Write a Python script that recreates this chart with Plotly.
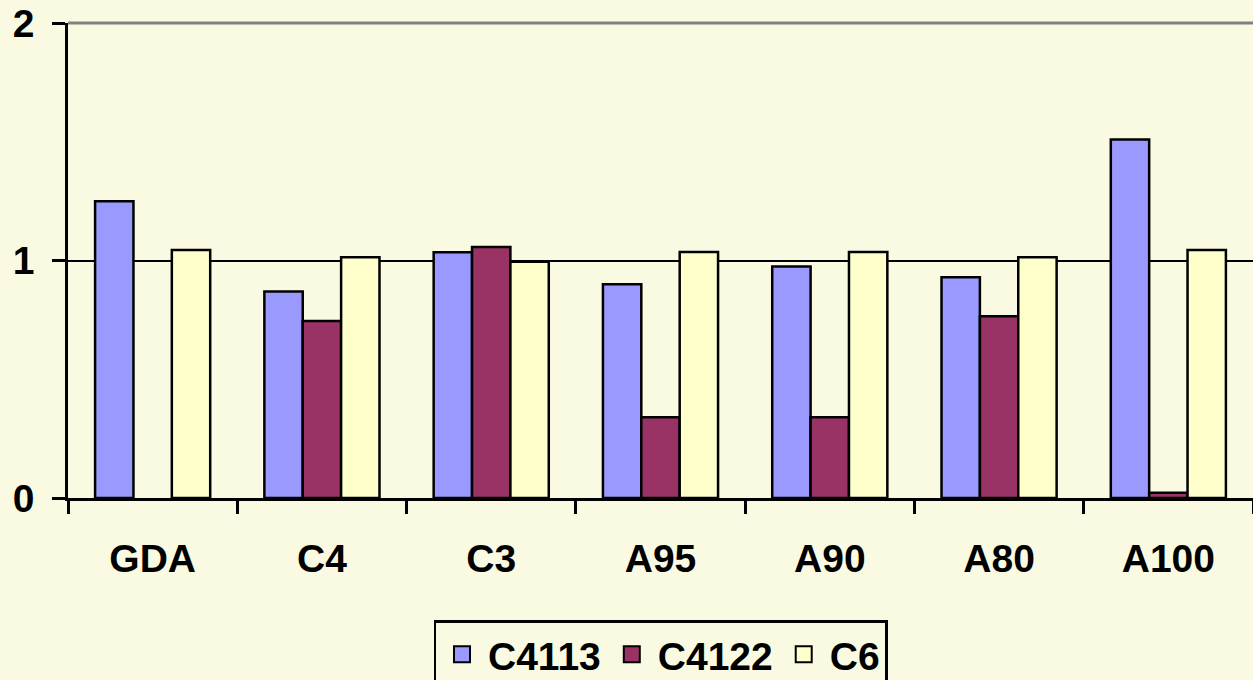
import plotly.graph_objects as go

categories = ["GDA", "C4", "C3", "A95", "A90", "A80", "A100"]
c4113 = [1.25, 0.87, 1.035, 0.90, 0.975, 0.93, 1.51]
c4122 = [None, 0.745, 1.057, 0.34, 0.34, 0.765, 0.022]
c6 = [1.044, 1.014, 0.995, 1.036, 1.036, 1.014, 1.044]
series_names = ["C4113", "C4122", "C6"]
y_ticks = [0, 1, 2]

bg = "#FAFAE2"
colors = ["#9999FF", "#993366", "#FFFFCC"]

fig = go.Figure()
for name, vals, col in zip(series_names, [c4113, c4122, c6], colors):
    fig.add_trace(go.Bar(
        x=categories, y=vals, name=name, showlegend=False,
        marker=dict(color=col, line=dict(color="black", width=2.5)),
    ))
# legend entries with larger square swatches
for name, col in zip(series_names, colors):
    fig.add_trace(go.Scatter(
        x=[None], y=[None], mode="markers", name=name,
        marker=dict(symbol="square", size=16, color=col, line=dict(color="black", width=2)),
    ))

fig.update_layout(
    width=1253, height=680,
    margin=dict(l=68, r=0, t=23, b=182),
    paper_bgcolor=bg, plot_bgcolor=bg,
    barmode="group", bargap=0.32, bargroupgap=0,
    font=dict(family="Liberation Sans, Arial, sans-serif", size=39, color="black", weight="bold"),
    showlegend=True,
    legend=dict(
        orientation="h", x=0.5, xanchor="center",
        yref="container", y=1 - 620 / 680, yanchor="top",
        bgcolor=bg, bordercolor="black", borderwidth=2.5,
        font=dict(size=39, weight="bold"),
        itemwidth=42, tracegroupgap=0,
    ),
)
fig.update_yaxes(
    range=[0, 2], tickvals=y_ticks, ticktext=[str(v) for v in y_ticks],
    showgrid=True, gridcolor="black", gridwidth=2,
    showline=True, linecolor="black", linewidth=2.5,
    ticks="outside", ticklen=13, tickwidth=2.5, tickcolor="black",
    ticklabelstandoff=10, zeroline=False, automargin=False,
)
fig.update_xaxes(
    showline=True, linecolor="black", linewidth=2.5,
    ticks="outside", ticklen=13, tickwidth=2.5, tickcolor="black",
    tickson="boundaries", ticklabelstandoff=24, showgrid=False, automargin=False,
)
fig.add_shape(type="line", xref="paper", yref="paper", x0=0, x1=1, y0=1, y1=1,
              line=dict(color="#808080", width=3))

fig.write_html(
    "out.html",
    config={"displayModeBar": False},
    post_script="document.body.style.margin='0';document.body.style.background='" + bg + "';",
)
